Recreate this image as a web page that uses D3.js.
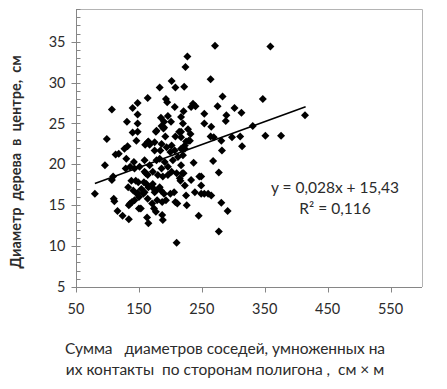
<!DOCTYPE html>
<html>
<head>
<meta charset="utf-8">
<script src="https://cdn.jsdelivr.net/npm/d3@7"></script>
<style>
  body { margin: 0; background: #fff; }
  svg { display: block; }
  text { font-family: Lato, "Open Sans", sans-serif; fill: #2b2b2b; }
</style>
</head>
<body>
<div id="chart"></div>
<script>
// scatter of tree diameter vs. neighbour sum, with linear trend

let W = 447, H = 389;

// data: x = sum of neighbour diameters, y = diameter
let xs = [271,359,227,224,264,202,222,208,183,283,347,164,193,195,148,140,107,207,236,240,
          233,275,302,313,221,254,148,289,288,185,196,190,201,217,220,131,148,186,189,254,
          265,331,414,178,140,148,228,232,217,217,208,192,264,269,298,311,351,376,229,99,
          146,177,190,214,281,314,282,
          164,167,132,127,113,118,165,175,186,194,202,207,200,184,175,160,225,231,223,220,
          217,223,237,268,130,136,143,151,159,167,172,159,178,183,191,196,186,180,188,196,
          204,212,217,202,210,215,96,142,277,221,233,249,246,129,
          138,149,133,141,154,165,159,172,183,175,223,249,239,225,226,249,254,260,265,281,
          291,245,277,210,80,110,111,116,124,134,134,139,148,150,153,163,165,158,164,171,
          177,171,174,177,187,188,179,187,193,185,190,200,206,208,211,219,216,107,109,161,
          162,157,164,136,143,150,147,145];
let ys = [34.5,34.4,33.2,31.9,30.4,30.2,29.5,29.4,29.4,28.3,28.0,28.1,28.0,27.6,27.5,26.9,26.7,27.0,27.4,27.1,
          27.0,27.1,26.9,26.3,26.5,26.2,26.1,26.0,25.3,25.7,25.9,25.2,25.2,25.8,25.0,25.2,25.0,24.7,24.4,25.0,
          24.6,24.7,26.0,24.1,23.9,24.0,24.3,23.7,24.0,23.3,23.4,23.4,23.4,23.3,23.3,23.4,23.5,23.5,22.9,23.1,
          22.9,24.0,24.5,24.0,22.9,22.2,21.7,
          22.7,22.4,22.2,21.9,21.2,21.3,22.8,22.7,22.5,22.1,22.3,21.7,21.5,21.7,21.7,22.4,22.8,22.9,21.9,21.1,
          21.9,22.3,20.2,20.4,20.7,19.7,19.5,19.7,20.5,19.9,19.1,19.1,20.5,20.7,20.3,19.7,19.5,18.7,18.5,18.7,
          20.5,20.9,19.9,19.1,18.9,18.3,19.9,20.3,19.0,18.9,18.1,18.5,18.5,19.5,
          18.0,17.8,17.2,16.8,17.0,17.2,16.6,17.6,17.2,16.6,17.4,17.4,16.6,16.2,15.0,16.4,16.4,16.4,16.2,15.3,
          14.3,13.7,11.8,10.4,16.4,15.8,15.5,14.3,13.7,13.3,15.0,15.4,16.5,16.0,14.6,13.5,12.8,17.8,18.7,17.2,
          16.8,15.2,14.6,14.2,13.8,13.2,15.6,15.4,15.6,16.8,16.4,16.4,16.6,15.4,15.2,18.9,18.0,18.1,18.5,18.9,
          17.6,16.4,15.8,15.2,15.6,14.6,16.4,18.0];

let xTicks = [50, 150, 250, 350, 450, 550];
let yTicks = [5, 10, 15, 20, 25, 30, 35];
let yMinor = d3.range(5, 40, 1);

// trend line y = 0.028x + 15.43, drawn over the data range
let trendX = [80, 415];
let slope = 0.028, intercept = 15.43;

let eqLines = ["y = 0,028x + 15,43", "R² = 0,116"];
let xTitle = ["Сумма   диаметров соседей, умноженных на", "их контакты  по сторонам полигона ,  см × м"];
let yTitle = "Диаметр  дерева  в  центре,  см";

let pLeft = 76, pRight = 422, pTop = 9, pBottom = 287;

let x = d3.scaleLinear().domain([50, 600]).range([pLeft, pRight]);
let y = d3.scaleLinear().domain([5, 39]).range([pBottom, pTop]);

let svg = d3.select("#chart").append("svg")
  .attr("width", W).attr("height", H);

// plot frame (top and right)
svg.append("path")
  .attr("d", "M" + pLeft + "," + (pTop + 0.5) + "H" + (pRight + 0.5) + "V" + pBottom)
  .attr("fill", "none")
  .attr("stroke", "#b4b4b4");

// y axis
let yAxis = svg.append("g").attr("transform", "translate(" + (pLeft + 0.5) + ",0)");
yAxis.append("line").attr("y1", pTop).attr("y2", pBottom).attr("stroke", "#868686");
yAxis.selectAll(".minor").data(yMinor).enter().append("line")
  .attr("x1", 0).attr("x2", 4)
  .attr("y1", d => Math.round(y(d)) + 0.5).attr("y2", d => Math.round(y(d)) + 0.5)
  .attr("stroke", "#868686");
yAxis.selectAll(".major").data(yTicks).enter().append("line")
  .attr("x1", -5).attr("x2", 0)
  .attr("y1", d => Math.round(y(d)) + 0.5).attr("y2", d => Math.round(y(d)) + 0.5)
  .attr("stroke", "#868686");
yAxis.selectAll("text").data(yTicks).enter().append("text")
  .attr("x", -11).attr("y", d => y(d))
  .attr("dy", "0.35em")
  .attr("text-anchor", "end")
  .style("font-size", "14.5px")
  .text(d => d);

// x axis
let xAxis = svg.append("g").attr("transform", "translate(0," + (pBottom + 0.5) + ")");
xAxis.append("line").attr("x1", pLeft).attr("x2", pRight).attr("stroke", "#868686");
xAxis.selectAll(".major").data(xTicks).enter().append("line")
  .attr("x1", d => Math.round(x(d)) + 0.5).attr("x2", d => Math.round(x(d)) + 0.5)
  .attr("y1", 0).attr("y2", 5)
  .attr("stroke", "#868686");
xAxis.selectAll("text").data(xTicks).enter().append("text")
  .attr("x", d => x(d)).attr("y", 26)
  .attr("text-anchor", "middle")
  .style("font-size", "14.5px")
  .text(d => d);

// points
let pts = xs.map((v, i) => ({x: v, y: ys[i]}));
let diamond = d3.symbol().type(d3.symbolSquare).size(32);
svg.append("g").selectAll("path").data(pts).enter().append("path")
  .attr("d", diamond)
  .attr("transform", d => "translate(" + x(d.x) + "," + y(d.y) + ") rotate(45)")
  .attr("fill", "#000");

// trend line
svg.append("line")
  .attr("x1", x(trendX[0])).attr("y1", y(slope * trendX[0] + intercept))
  .attr("x2", x(trendX[1])).attr("y2", y(slope * trendX[1] + intercept))
  .attr("stroke", "#000").attr("stroke-width", 1.6);

// equation
svg.selectAll(".eq").data(eqLines).enter().append("text")
  .attr("x", 335).attr("y", (d, i) => 193 + i * 21)
  .attr("text-anchor", "middle")
  .style("font-size", "15.5px")
  .text(d => d);

// axis titles
svg.selectAll(".xt").data(xTitle).enter().append("text")
  .attr("x", 225).attr("y", (d, i) => 354 + i * 21)
  .attr("text-anchor", "middle")
  .style("font-size", "15.5px")
  .style("white-space", "pre")
  .text(d => d);

svg.append("text")
  .attr("transform", "translate(21,162) rotate(-90)")
  .attr("text-anchor", "middle")
  .style("font-size", "14.5px")
  .style("font-weight", "bold")
  .style("white-space", "pre")
  .text(yTitle);
</script>
</body>
</html>
